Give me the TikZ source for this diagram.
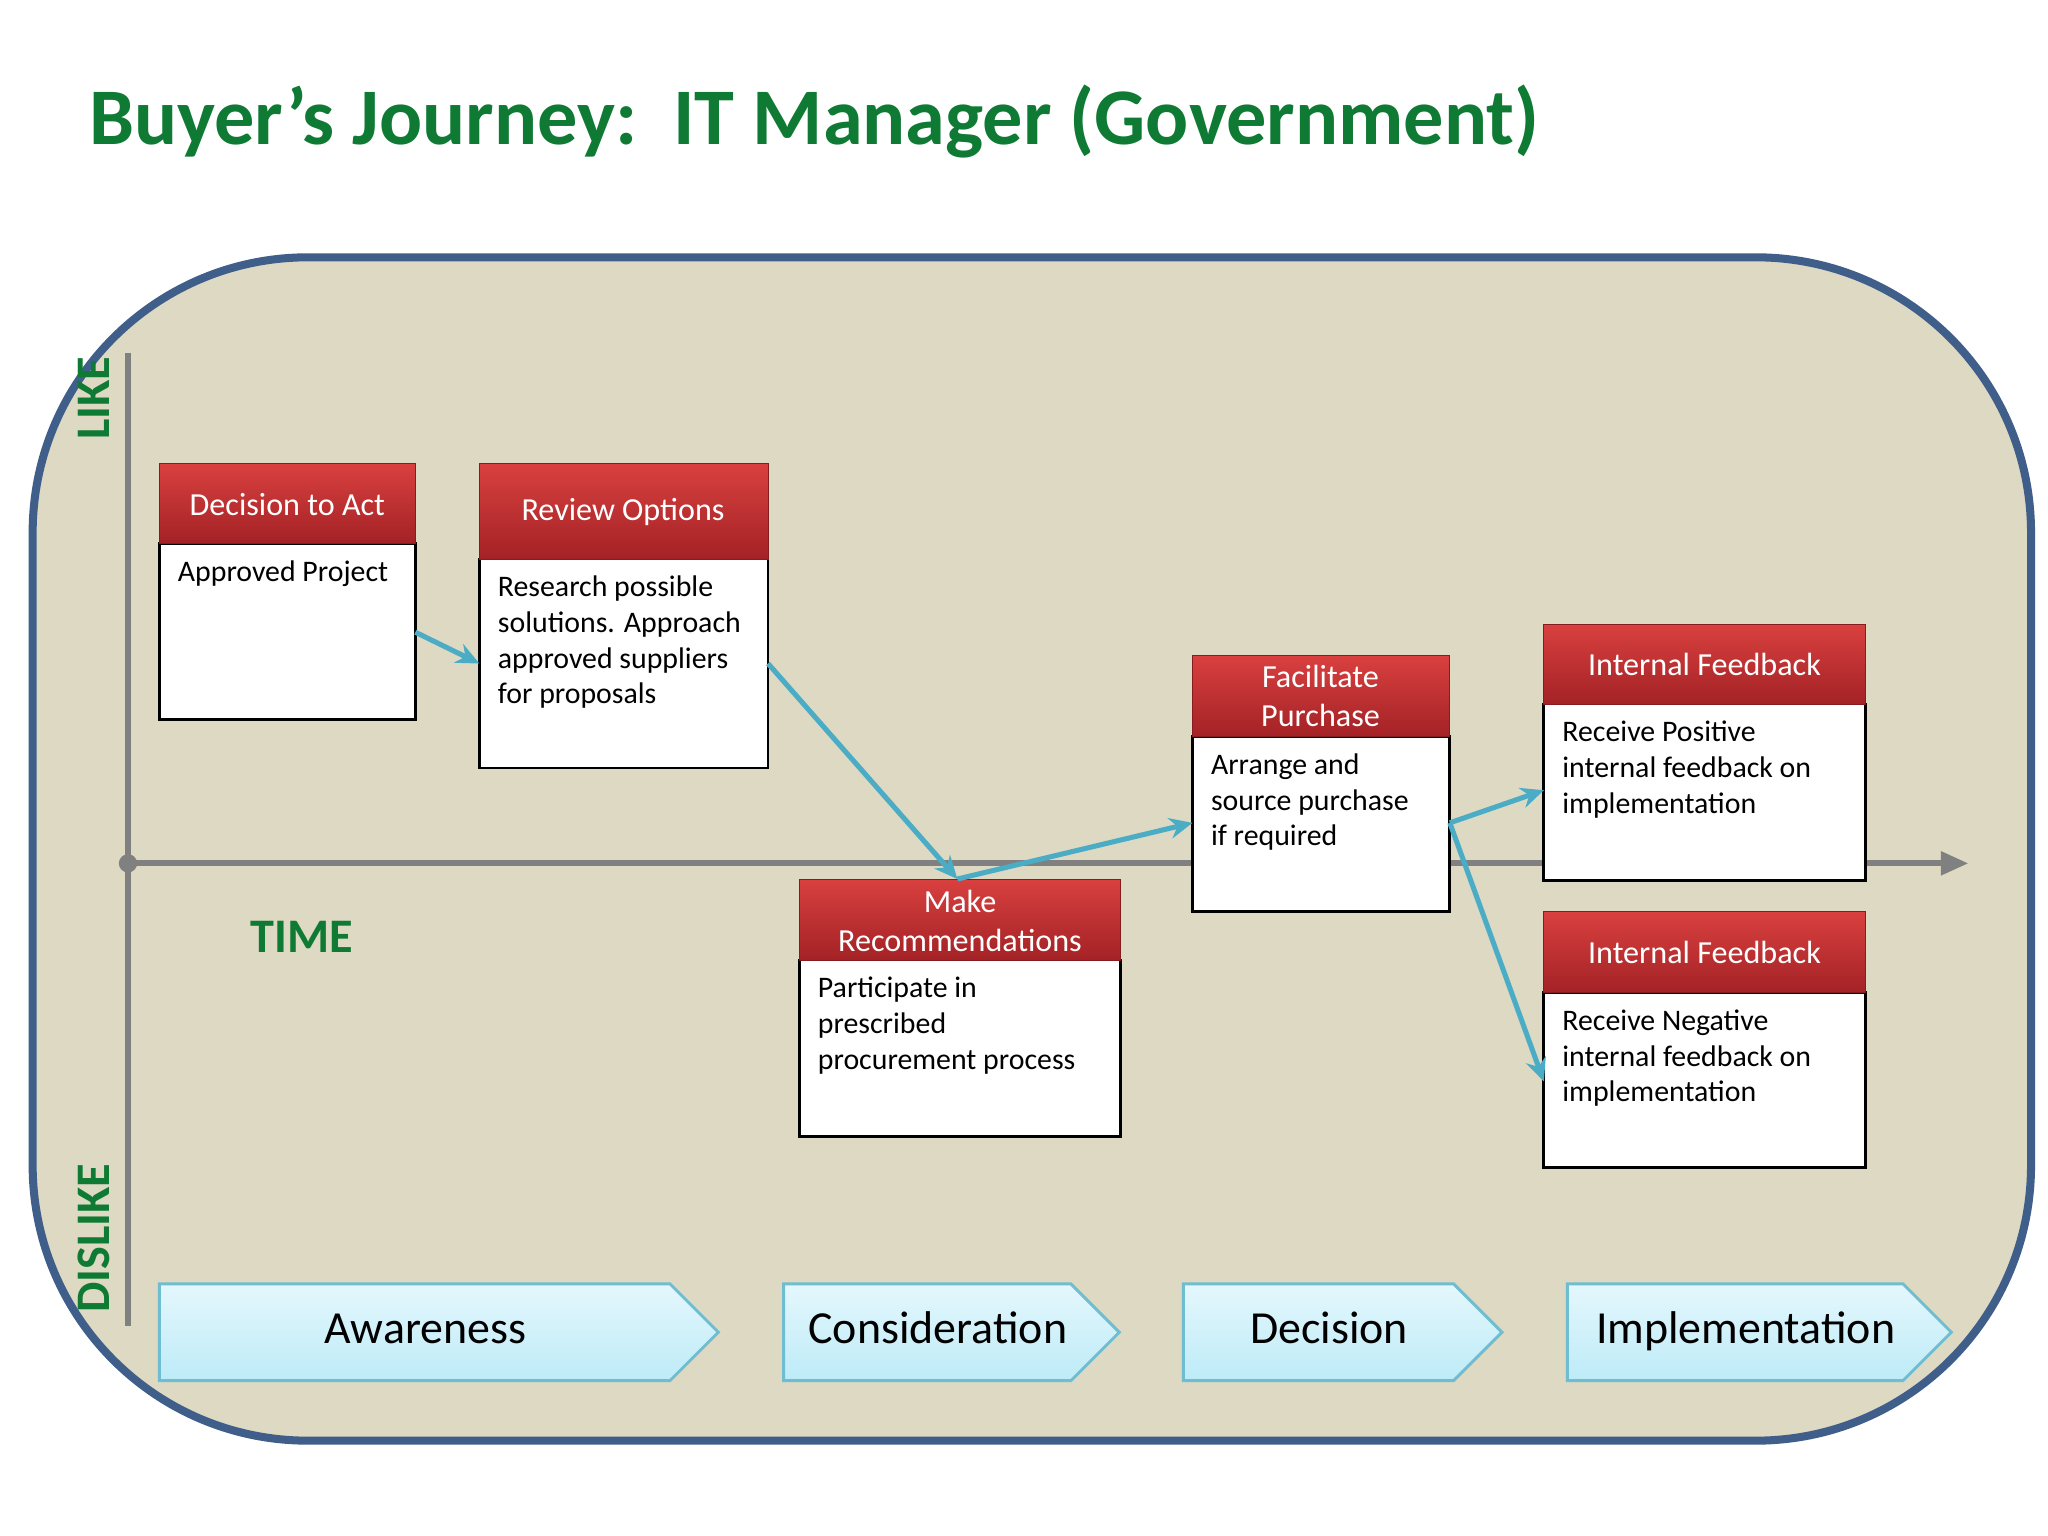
\documentclass[tikz,border=0pt]{standalone}
\usepackage{fontspec}
\setmainfont{Carlito}
\usetikzlibrary{arrows.meta}
\definecolor{tgreen}{HTML}{0F7A33}
\definecolor{bg}{HTML}{DDD9C3}
\definecolor{frame}{HTML}{3F5F8A}
\definecolor{hred}{HTML}{C0282C}
\definecolor{hred2}{HTML}{D9403F}
\definecolor{cblue}{HTML}{4BACC6}
\definecolor{chev}{HTML}{BDEBF8}
\tikzset{
 hdr/.style={draw=hred!70!black,top color=hred2,bottom color=hred!85!black},
 htext/.style={text=white,font=\fontsize{14}{17}\selectfont,align=center},
 bodybox/.style={draw=black,line width=1.2pt,fill=white},
 btext/.style={font=\fontsize{13}{15.5}\selectfont,align=left,anchor=north west,text=black},
 conn/.style={cblue,line width=2.2pt,-{Stealth[length=10pt,width=9pt]}},
 chevt/.style={font=\fontsize{20}{22}\selectfont,text=black,text height=14pt,text depth=4pt},
 chevs/.style={draw=cblue!80,line width=1.3pt,top color=chev!40!white,bottom color=chev},
 gtext/.style={font=\bfseries\fontsize{21}{22}\selectfont,text=tgreen}
}
\begin{document}
\begin{tikzpicture}[x=0.02cm,y=-0.02cm]
\useasboundingbox (0,0) rectangle (1568,1176);
\fill[white] (0,0) rectangle (1568,1176);
\node[anchor=west,font=\bfseries\fontsize{35}{40}\selectfont,text=tgreen] (title) at (62,93) {Buyer{\char"27}s Journey:\ \ IT Manager (Government)};
\draw[frame,line width=3.5pt,fill=bg,rounded corners=120] (25,197) rectangle (1555,1103);
% axes
\draw[gray,line width=2.5pt] (98,270) -- (98,1015);
\draw[gray,line width=2.5pt,-{Triangle[length=12pt,width=10pt]}] (98,661) -- (1507,661);
\fill[gray] (98,661) circle (7);
\node[gtext,rotate=90] (like) at (72,305) {LIKE};
\node[gtext,rotate=90] (dislike) at (72,948) {DISLIKE};
\node[gtext] (time) at (231,717) {TIME};
% boxes
\draw[bodybox] (122,416) rectangle (318,551);
\draw[hdr] (122,355) rectangle (318,416);
\node[htext] (h1) at (220,386) {Decision to Act};
\node[btext] (b1) at (130,423) {Approved Project};
\coordinate (b1r) at (318,484);

\draw[bodybox] (367,428) rectangle (588,588);
\draw[hdr] (367,355) rectangle (588,428);
\node[htext] (h2) at (477,392) {Review Options};
\node[btext] (b2) at (375,435) {Research possible\\solutions. Approach\\approved suppliers\\for proposals};
\coordinate (b2l) at (367,508);
\coordinate (b2r) at (588,508);

\draw[bodybox] (612,735) rectangle (858,870);
\draw[hdr] (612,673) rectangle (858,735);
\node[htext] (h3) at (735,705) {Make\\Recommendations};
\node[btext] (b3) at (620,742) {Participate in\\prescribed\\procurement process};
\coordinate (b3t) at (733,673);

\draw[bodybox] (913,564) rectangle (1110,698);
\draw[hdr] (913,502) rectangle (1110,564);
\node[htext] (h4) at (1011,533) {Facilitate\\Purchase};
\node[btext] (b4) at (921,571) {Arrange and\\source purchase\\if required};
\coordinate (b4l) at (913,630);
\coordinate (b4r) at (1110,630);

\draw[bodybox] (1182,539) rectangle (1428,674);
\draw[hdr] (1182,478) rectangle (1428,539);
\node[htext] (h5) at (1305,509) {Internal Feedback};
\node[btext] (b5) at (1190,546) {Receive Positive\\internal feedback on\\implementation};
\coordinate (b5l) at (1182,605);

\draw[bodybox] (1182,760) rectangle (1428,894);
\draw[hdr] (1182,698) rectangle (1428,760);
\node[htext] (h6) at (1305,729) {Internal Feedback};
\node[btext] (b6) at (1190,767) {Receive Negative\\internal feedback on\\implementation};
\coordinate (b6l) at (1182,828);
% connectors
\draw[conn] (b1r) -- (b2l);
\draw[conn] (b2r) -- (b3t);
\draw[conn] (b3t) -- (b4l);
\draw[conn] (b4r) -- (b5l);
\draw[conn] (b4r) -- (b6l);
% chevrons
\foreach \xa/\xb/\t [count=\i] in {122/550/Awareness,600/857/Consideration,906/1150/Decision,1200/1494/Implementation}{
 \draw[chevs] (\xa,983) -- ({\xb-37},983) -- (\xb,1020) -- ({\xb-37},1057) -- (\xa,1057) -- cycle;
 \node[chevt] (c\i) at ({(\xa+\xb-37)/2+8},1020) {\t};
}
\end{tikzpicture}
\end{document}
